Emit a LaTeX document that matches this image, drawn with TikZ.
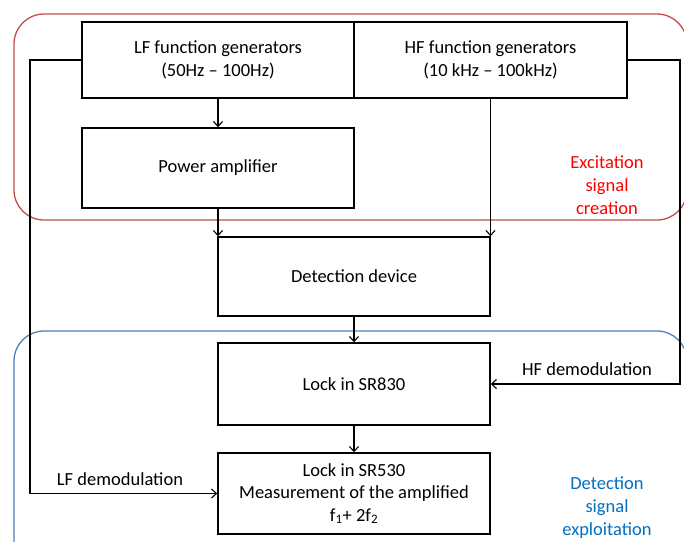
\documentclass[tikz,border=0pt]{standalone}
\usepackage{fontspec}
\setmainfont{Carlito}
\usetikzlibrary{arrows.meta}
\definecolor{framered}{RGB}{192,80,77}
\definecolor{frameblue}{RGB}{79,129,189}
\definecolor{labelred}{RGB}{255,0,0}
\definecolor{labelblue}{RGB}{0,112,192}
\begin{document}
\begin{tikzpicture}[x=1pt,y=-1pt,
  blockbox/.style={draw=black,line width=1.4pt,inner sep=0pt,align=center,font=\fontsize{18.5}{23.5}\selectfont},
  wire/.style={draw=black,line width=1.1pt},
  arr/.style={wire,-{Straight Barb[length=5pt,width=9pt]}},
  zone/.style={line width=1.3pt,rounded corners=30pt},
  zonelabel/.style={align=center,font=\fontsize{18.5}{23}\selectfont},
  plain/.style={font=\fontsize{18.5}{22}\selectfont}]
\useasboundingbox (0,0) rectangle (684,541);
\clip (0,0) rectangle (684,541);
\fill[white] (0,0) rectangle (684,541);

% grouping frames
\draw[zone,framered] (14,14) rectangle (687,220);
\draw[zone,frameblue] (14,331) rectangle (687,575);

% blocks
\node[blockbox,minimum width=272pt,minimum height=76pt] (lf) at (218,60) {LF function generators\\(50Hz -- 100Hz)};
\node[blockbox,minimum width=273pt,minimum height=76pt] (hf) at (490.5,60) {HF function generators\\(10 kHz -- 100kHz)};
\node[blockbox,minimum width=272pt,minimum height=80pt] (pa) at (218,168) {Power amplifier};
\node[blockbox,minimum width=272pt,minimum height=79pt] (dd) at (354,276.5) {Detection device};
\node[blockbox,minimum width=272pt,minimum height=82pt] (l830) at (354,384) {Lock in SR830};
\node[blockbox,minimum width=272pt,minimum height=81pt,font=\fontsize{18.5}{22.5}\selectfont] (l530) at (354,493.5) {Lock in SR530\\Measurement of the amplified\\f\textsubscript{1}+ 2f\textsubscript{2}};

% signal paths
\draw[arr] (lf.south) -- (pa.north);
\draw[arr] (pa.south) -- (pa.south |- dd.north);
\draw[arr] (hf.south) -- (hf.south |- dd.north);
\draw[arr] (dd.south) -- (l830.north);
\draw[arr] (l830.south) -- (l530.north);

% demodulation references
\coordinate (lfturn) at (30,60);
\coordinate (hfturn) at (680,60);
\draw[arr] (lf.west) -- (lfturn) -- (lfturn |- l530.west) -- (l530.west);
\draw[arr] (hf.east) -- (hfturn) -- (hfturn |- l830.east) -- (l830.east);

% labels
\node[plain] (hfdem) at (587,369) {HF demodulation};
\node[plain] (lfdem) at (120,479) {LF demodulation};
\node[zonelabel,text=labelred] (exc) at (607,185) {Excitation\\signal\\creation};
\node[zonelabel,text=labelblue] (det) at (607,508) {Detection\\signal\\exploitation};
\end{tikzpicture}
\end{document}
